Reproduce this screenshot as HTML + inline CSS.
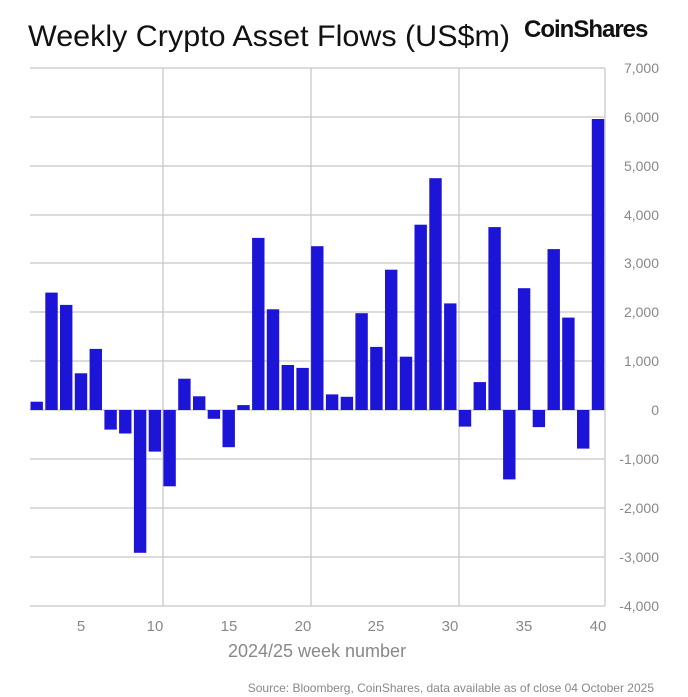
<!DOCTYPE html>
<html><head><meta charset="utf-8"><style>
body{margin:0;background:#fff}
svg{display:block;font-family:"Liberation Sans",sans-serif}
</style></head><body>
<svg width="688" height="697" viewBox="0 0 688 697" xmlns="http://www.w3.org/2000/svg">
<text x="28" y="46" font-size="30" fill="#111" textLength="482" lengthAdjust="spacingAndGlyphs">Weekly Crypto Asset Flows (US$m)</text>
<text x="524" y="37" font-size="24" font-weight="bold" fill="#111" letter-spacing="-1">CoinShares</text>
<g stroke="#c8c8c8" stroke-width="1.3" fill="none">
<line x1="30" y1="68" x2="605" y2="68"/><line x1="30" y1="117" x2="605" y2="117"/><line x1="30" y1="166" x2="605" y2="166"/><line x1="30" y1="215" x2="605" y2="215"/><line x1="30" y1="263" x2="605" y2="263"/><line x1="30" y1="312" x2="605" y2="312"/><line x1="30" y1="361" x2="605" y2="361"/><line x1="30" y1="410" x2="605" y2="410"/><line x1="30" y1="459" x2="605" y2="459"/><line x1="30" y1="508" x2="605" y2="508"/><line x1="30" y1="557" x2="605" y2="557"/><line x1="30" y1="606" x2="605" y2="606"/>
<line x1="163" y1="68" x2="163" y2="606"/><line x1="311" y1="68" x2="311" y2="606"/><line x1="459" y1="68" x2="459" y2="606"/><line x1="605" y1="68" x2="605" y2="606"/>
</g>
<g fill="#888" font-size="14" text-anchor="end">
<text x="659" y="73">7,000</text><text x="659" y="122">6,000</text><text x="659" y="171">5,000</text><text x="659" y="220">4,000</text><text x="659" y="268">3,000</text><text x="659" y="317">2,000</text><text x="659" y="366">1,000</text><text x="659" y="415">0</text><text x="659" y="464">-1,000</text><text x="659" y="513">-2,000</text><text x="659" y="562">-3,000</text><text x="659" y="611">-4,000</text>
</g>
<g fill="#888" font-size="15" text-anchor="middle">
<text x="81" y="631">5</text><text x="155" y="631">10</text><text x="229" y="631">15</text><text x="303" y="631">20</text><text x="376" y="631">25</text><text x="450" y="631">30</text><text x="524" y="631">35</text><text x="598" y="631">40</text>
<text x="317" y="657" font-size="18">2024/25 week number</text>
</g>
<text x="654" y="692" font-size="12" fill="#888" text-anchor="end">Source: Bloomberg, CoinShares, data available as of close 04 October 2025</text>
<g fill="#1c14d6">
<rect x="30.5" y="401.7" width="12.4" height="8.3"/>
<rect x="45.3" y="292.6" width="12.4" height="117.4"/>
<rect x="60.0" y="304.9" width="12.4" height="105.1"/>
<rect x="74.8" y="373.3" width="12.4" height="36.7"/>
<rect x="89.6" y="348.9" width="12.4" height="61.1"/>
<rect x="104.4" y="410" width="12.4" height="19.6"/>
<rect x="119.1" y="410" width="12.4" height="23.5"/>
<rect x="133.9" y="410" width="12.4" height="142.8"/>
<rect x="148.7" y="410" width="12.4" height="41.6"/>
<rect x="163.4" y="410" width="12.4" height="76.3"/>
<rect x="178.2" y="378.7" width="12.4" height="31.3"/>
<rect x="193.0" y="396.3" width="12.4" height="13.7"/>
<rect x="207.7" y="410" width="12.4" height="8.8"/>
<rect x="222.5" y="410" width="12.4" height="37.2"/>
<rect x="237.3" y="405.1" width="12.4" height="4.9"/>
<rect x="252.1" y="237.9" width="12.4" height="172.1"/>
<rect x="266.8" y="309.3" width="12.4" height="100.7"/>
<rect x="281.6" y="365" width="12.4" height="45"/>
<rect x="296.4" y="367.9" width="12.4" height="42.1"/>
<rect x="311.1" y="246.2" width="12.4" height="163.8"/>
<rect x="325.9" y="394.4" width="12.4" height="15.6"/>
<rect x="340.7" y="396.8" width="12.4" height="13.2"/>
<rect x="355.4" y="313.2" width="12.4" height="96.8"/>
<rect x="370.2" y="346.9" width="12.4" height="63.1"/>
<rect x="385.0" y="269.7" width="12.4" height="140.3"/>
<rect x="399.8" y="356.7" width="12.4" height="53.3"/>
<rect x="414.5" y="224.7" width="12.4" height="185.3"/>
<rect x="429.3" y="178.2" width="12.4" height="231.8"/>
<rect x="444.1" y="303.4" width="12.4" height="106.6"/>
<rect x="458.8" y="410" width="12.4" height="16.6"/>
<rect x="473.6" y="382.1" width="12.4" height="27.9"/>
<rect x="488.4" y="227.1" width="12.4" height="182.9"/>
<rect x="503.1" y="410" width="12.4" height="69.4"/>
<rect x="517.9" y="288.2" width="12.4" height="121.8"/>
<rect x="532.7" y="410" width="12.4" height="17.1"/>
<rect x="547.5" y="249.1" width="12.4" height="160.9"/>
<rect x="562.2" y="317.6" width="12.4" height="92.4"/>
<rect x="577.0" y="410" width="12.4" height="38.6"/>
<rect x="591.8" y="119.0" width="12.4" height="291.0"/>
</g>
</svg>
</body></html>
